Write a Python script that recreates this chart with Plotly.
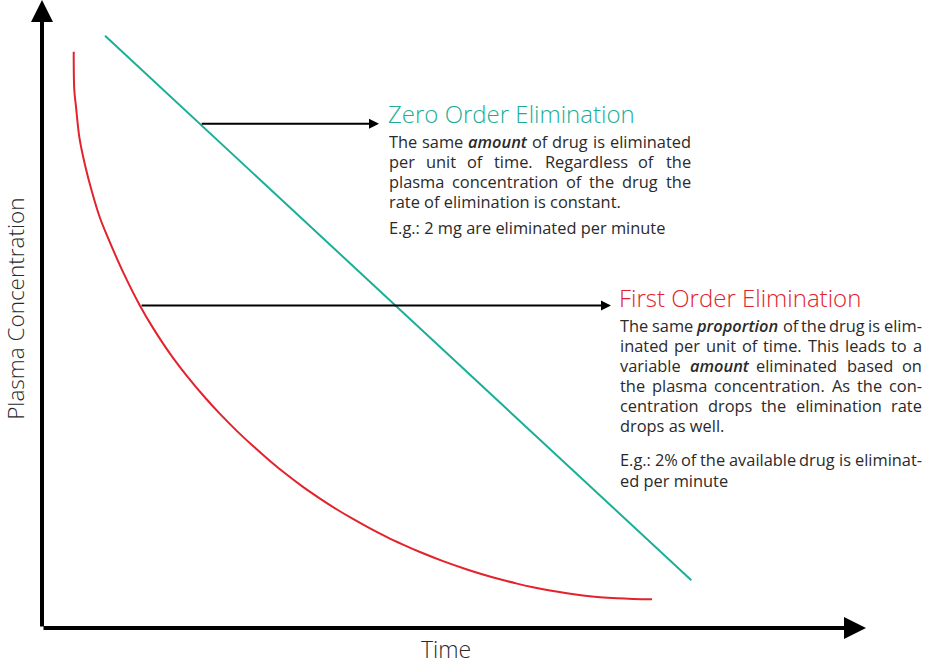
import plotly.graph_objects as go

# ---------------- data (time / concentration units, 0-100) ----------------
zero_time = [7.65, 78.8]
zero_conc = [94.3, 7.6]

first_time = [3.85, 3.92, 4.13, 4.53, 5.22, 6.07, 7.04, 8.05, 9.87, 11.89, 13.47,
              15.53, 17.60, 19.78, 21.60, 23.67, 25.61, 27.67, 29.73, 31.67, 33.74,
              35.80, 37.74, 39.81, 41.87, 43.81, 45.87, 48.67, 51.58, 53.52, 55.58,
              57.65, 59.59, 61.65, 63.71, 65.65, 67.72, 69.78, 71.72, 74.03]
first_conc = [91.77, 85.67, 82.96, 78.18, 73.73, 69.43, 65.29, 62.01, 56.58, 51.32, 47.79,
              43.69, 40.11, 36.70, 34.09, 31.35, 28.97, 26.61, 24.39, 22.47, 20.61,
              18.87, 17.36, 15.86, 14.47, 13.28, 12.10, 10.65, 9.32, 8.52, 7.75,
              7.07, 6.50, 5.97, 5.53, 5.18, 4.90, 4.73, 4.63, 4.57]

zero_arrow = dict(tail=(19.2, 80.3), head=(40.9, 80.3))
first_arrow = dict(tail=(11.9, 51.35), head=(69.05, 51.35))

x_label = "Time"
y_label = "Plasma Concentration"
zero_title = "Zero Order Elimination"
first_title = "First Order Elimination"

# (text, justified?) ; *word* = emphasised (semibold italic)
zero_lines = [("The same *amount* of drug is eliminated", True),
              ("per unit of time. Regardless of the", True),
              ("plasma concentration of the drug the", True),
              ("rate of elimination is constant.", False)]
zero_example = [("E.g.: 2 mg are eliminated per minute", False)]
first_lines = [("The same *proportion* of the drug is elim-", True),
               ("inated per unit of time. This leads to a", True),
               ("variable *amount* eliminated based on", True),
               ("the plasma concentration. As the con-", True),
               ("centration drops the elimination rate", True),
               ("drops as well.", False)]
first_example = [("E.g.: 2% of the available drug is eliminat-", True),
                 ("ed per minute", False)]

TEAL = "#1bae97"
RED = "#e3222c"
TEXT = "#2a2a2a"
FONT = "Open Sans"

# ---------------- layout geometry ----------------
W, H = 927, 668
ML, MR, MT, MB = 42, 61, 0, 40
PW, PH = W - ML - MR, H - MT - MB


def PX(px):
    return (px - ML) / PW


def PY(py):
    return (H - MB - py) / PH


fig = go.Figure()
fig.add_trace(go.Scatter(x=zero_time, y=zero_conc, mode="lines",
                         line=dict(color=TEAL, width=2), hoverinfo="skip"))
fig.add_trace(go.Scatter(x=first_time, y=first_conc, mode="lines",
                         line=dict(color=RED, width=2, shape="spline", smoothing=1.0),
                         hoverinfo="skip"))

ann = []
# axis arrows
ann.append(dict(x=100, y=0, ax=0, ay=0, xref="x", yref="y", axref="x", ayref="y",
                text="", showarrow=True, arrowhead=2, arrowsize=1.1, arrowwidth=4,
                arrowcolor="black", standoff=0))
ann.append(dict(x=0, y=100, ax=0, ay=0, xref="x", yref="y", axref="x", ayref="y",
                text="", showarrow=True, arrowhead=2, arrowsize=1.1, arrowwidth=4,
                arrowcolor="black", standoff=0))
for a in (zero_arrow, first_arrow):
    ann.append(dict(x=a["head"][0], y=a["head"][1], ax=a["tail"][0], ay=a["tail"][1],
                    xref="x", yref="y", axref="x", ayref="y", text="", showarrow=True,
                    arrowhead=2, arrowsize=1, arrowwidth=2, arrowcolor="black", standoff=0))

# Open Sans advance widths (units / 2048)
CW = {' ': 532, '.': 545, ',': 496, ':': 545, '-': 659, '%': 1649, '2': 1171,
      'A': 1296, 'E': 1139, 'T': 1149, 'R': 1288, 'F': 1057,
      'a': 1139, 'b': 1255, 'c': 975, 'd': 1255, 'e': 1149, 'f': 694, 'g': 1122,
      'h': 1257, 'i': 518, 'j': 518, 'k': 1075, 'l': 518, 'm': 1905, 'n': 1257,
      'o': 1237, 'p': 1255, 'q': 1255, 'r': 836, 's': 977, 't': 723, 'u': 1257,
      'v': 1026, 'w': 1593, 'x': 1073, 'y': 1028, 'z': 981}
# semibold-italic width correction for the emphasised words
EMPH = {"amount": 0.965, "proportion": 1.0}

BODY = 16.4


def fmt(word):
    if word.startswith("*") and word.endswith("*"):
        return '<i><span style="font-weight:600">' + word[1:-1] + '</span></i>'
    return word


def fmt_line(line):
    return " ".join(fmt(w) for w in line.split(" "))


def tw(word, size):
    plain = word.strip("*")
    w = sum(CW.get(c, 1150) for c in plain) / 2048 * size
    if word.startswith("*"):
        w *= EMPH.get(plain, 1.0)
    return w


def text_ann(txt, xpx, baseline, anchor="left", size=BODY, color=TEXT, weight=400):
    return dict(x=PX(xpx), y=PY(baseline - 4.7), xref="paper", yref="paper",
                text=txt, showarrow=False, xanchor=anchor, yanchor="middle",
                height=19, valign="bottom",
                borderpad=0, borderwidth=0,
                font=dict(family=FONT, size=size, color=color, weight=weight))


def title_ann(txt, xpx, baseline, color):
    return dict(x=PX(xpx), y=PY(baseline - 8.3), xref="paper", yref="paper",
                text=txt, showarrow=False, xanchor="left", yanchor="middle",
                borderpad=0, borderwidth=0,
                font=dict(family=FONT, size=24, color=color, weight=300))


def block(lines, left, right, baseline0, step=20.1):
    out = []
    for k, (line, just) in enumerate(lines):
        b = baseline0 + k * step
        if not just:
            out.append(text_ann(fmt_line(line), left, b))
            continue
        words = line.split(" ")
        ws = [tw(w, BODY) for w in words]
        n = len(words)
        gap = (right - left - sum(ws)) / (n - 1)
        for i, w in enumerate(words):
            if i < n / 2:
                xp = left + sum(ws[:i]) + gap * i
                out.append(text_ann(fmt(w), xp, b, "left"))
            else:
                xp = right - sum(ws[i + 1:]) - gap * (n - 1 - i)
                out.append(text_ann(fmt(w), xp, b, "right"))
    return out


ann += block(zero_lines, 388.5, 691, 147.7)
ann += block(zero_example, 388.5, 691, 234.3)
ann += block(first_lines, 620, 921.5, 331.7)
ann += block(first_example, 620, 921.5, 466.7)

ann.append(title_ann(zero_title, 388, 121.7, TEAL))
ann.append(title_ann(first_title, 619, 306.0, RED))

ann.append(dict(x=PX(446), y=PY(649), xref="paper", yref="paper", text=x_label,
                showarrow=False, xanchor="center", yanchor="middle",
                borderpad=0, borderwidth=0,
                font=dict(family=FONT, size=23, color=TEXT, weight=300)))
ann.append(dict(x=PX(15.8), y=PY(309), xref="paper", yref="paper", text=y_label,
                showarrow=False, textangle=-90, xanchor="center", yanchor="middle",
                borderpad=0, borderwidth=0,
                font=dict(family=FONT, size=22.5, color=TEXT, weight=300)))

fig.update_layout(
    width=W, height=H, margin=dict(l=ML, r=MR, t=MT, b=MB),
    paper_bgcolor="white", plot_bgcolor="white", showlegend=False,
    xaxis=dict(range=[0, 100], visible=False, fixedrange=True),
    yaxis=dict(range=[0, 100], visible=False, fixedrange=True),
    annotations=ann,
)

fig.write_html("out.html", config={"displayModeBar": False},
               post_script="document.body.style.margin='0px';document.body.style.overflow='hidden';")
